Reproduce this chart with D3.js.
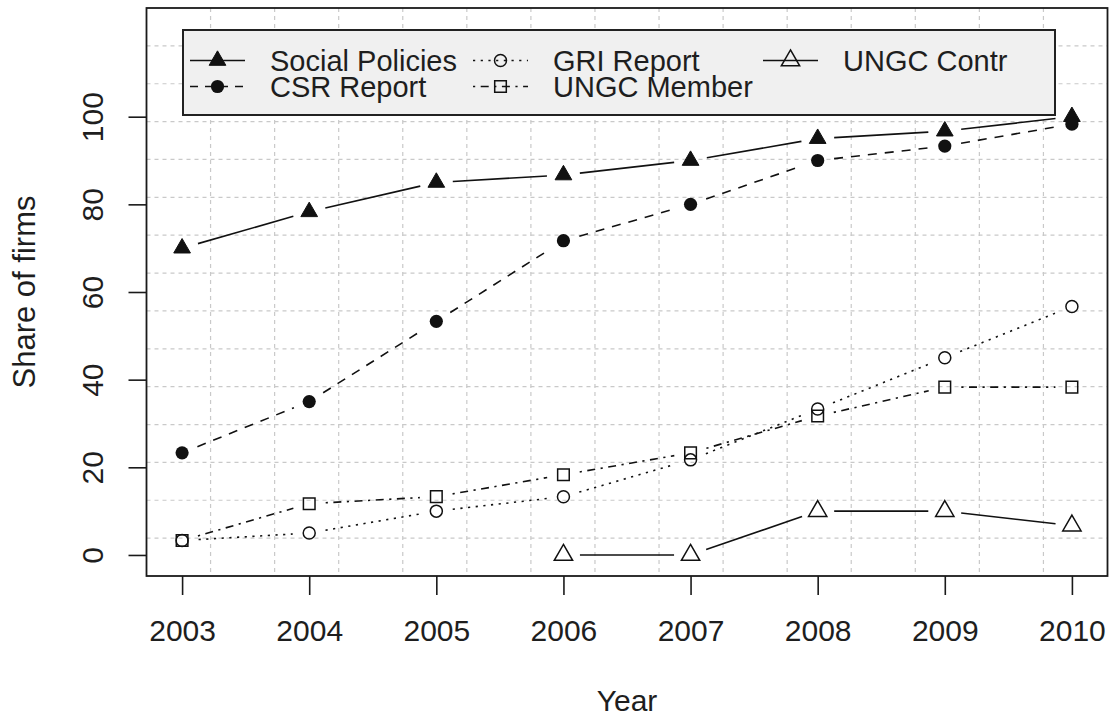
<!DOCTYPE html>
<html>
<head>
<meta charset="utf-8">
<script src="https://cdn.jsdelivr.net/npm/d3@7"></script>
<style>
  html, body { margin: 0; padding: 0; background: #ffffff; }
  svg { display: block; }
  text { font-family: "Liberation Sans", Arial, sans-serif; fill: #1e1e1e; }
</style>
</head>
<body>
<svg id="chart" width="1111" height="717"></svg>
<script>
// Share of firms adopting CSR practices, 2003-2010
const years = [2003, 2004, 2005, 2006, 2007, 2008, 2009, 2010];
const socialPolicies = [70, 78.3, 85, 86.7, 90, 95, 96.7, 100];
const csrReport      = [23.3, 35, 53.3, 71.7, 80, 90, 93.3, 98.3];
const griReport      = [3.3, 5, 10, 13.3, 21.7, 33.3, 45, 56.7];
const ungcMember     = [3.3, 11.7, 13.3, 18.3, 23.3, 31.7, 38.3, 38.3];
const ungcContr      = [null, null, null, 0, 0, 10, 10, 6.7];
const yTicks = [0, 20, 40, 60, 80, 100];
const seriesNames = ["Social Policies", "CSR Report", "GRI Report", "UNGC Member", "UNGC Contr"];
const xTitle = "Year";
const yTitle = "Share of firms";

// plotting styles (R-like line types and point characters)
const styles = {
  "Social Policies": { dash: null,            marker: "triangleFilled" },
  "CSR Report":      { dash: "9,8",           marker: "circleFilled" },
  "GRI Report":      { dash: "2.2,5.5",       marker: "circleOpen" },
  "UNGC Member":     { dash: "2.2,5.5,8,5.5", marker: "squareOpen" },
  "UNGC Contr":      { dash: null,            marker: "triangleOpen" }
};
const seriesValues = [socialPolicies, csrReport, griReport, ungcMember, ungcContr];

const svg = d3.select("#chart");
const plotLeft = 146.5, plotRight = 1107.5, plotTop = 8, plotBottom = 576;

// R-style axis extension of 4% on each side
const x = d3.scaleLinear().domain([2002.72, 2010.28]).range([plotLeft, plotRight]);
const y = d3.scaleLinear().domain([-4.8, 124.8]).range([plotBottom, plotTop]);

// background grid: 15 equal divisions each way
const gridG = svg.append("g");
const [x0, x1] = x.domain(), [y0, y1] = y.domain();
const gx = d3.range(1, 15).map(k => x0 + k * (x1 - x0) / 15);
const gy = d3.range(1, 15).map(k => y0 + k * (y1 - y0) / 15);
gridG.selectAll("line.gx").data(gx).join("line").attr("class", "gx")
  .attr("x1", d => x(d)).attr("x2", d => x(d))
  .attr("y1", plotTop).attr("y2", plotBottom)
  .attr("stroke", "#c9c9c9").attr("stroke-width", 1.2).attr("stroke-dasharray", "4,4");
gridG.selectAll("line.gy").data(gy).join("line").attr("class", "gy")
  .attr("y1", d => y(d)).attr("y2", d => y(d))
  .attr("x1", plotLeft).attr("x2", plotRight)
  .attr("stroke", "#c9c9c9").attr("stroke-width", 1.2).attr("stroke-dasharray", "4,4");

// marker shapes
function markerPath(type) {
  if (type.startsWith("triangle")) {
    const R = type === "triangleFilled" ? 6.2 : 6.8;
    const t = 1.555 * R, w = 1.347 * R, b = 0.778 * R;
    return `M0,${-t}L${w},${b}L${-w},${b}Z`;
  }
  if (type === "squareOpen") {
    const h = 5.8;
    return `M${-h},${-h}H${h}V${h}H${-h}Z`;
  }
  return null;
}
function drawMarker(g, type, cx, cy) {
  if (type === "circleFilled") {
    g.append("circle").attr("cx", cx).attr("cy", cy).attr("r", 6.6).attr("fill", "#111");
  } else if (type === "circleOpen") {
    g.append("circle").attr("cx", cx).attr("cy", cy).attr("r", 6)
      .attr("fill", "none").attr("stroke", "#111").attr("stroke-width", 1.5);
  } else {
    const filled = type === "triangleFilled";
    g.append("path").attr("d", markerPath(type))
      .attr("transform", `translate(${cx},${cy})`)
      .attr("fill", filled ? "#111" : "none")
      .attr("stroke", "#111").attr("stroke-width", filled ? 1 : 1.5);
  }
}

// series: lines with gaps around points (type = "b")
const gap = 16.5;
const dataG = svg.append("g");
seriesNames.forEach((name, si) => {
  const vals = seriesValues[si];
  const st = styles[name];
  const pts = years.map((yr, i) => vals[i] == null ? null : [x(yr), y(vals[i])]);
  for (let i = 0; i < pts.length - 1; i++) {
    const p = pts[i], q = pts[i + 1];
    if (!p || !q) continue;
    const dx = q[0] - p[0], dy = q[1] - p[1], len = Math.hypot(dx, dy);
    if (len <= 2 * gap) continue;
    const ux = dx / len, uy = dy / len;
    const ln = dataG.append("line")
      .attr("x1", p[0] + ux * gap).attr("y1", p[1] + uy * gap)
      .attr("x2", q[0] - ux * gap).attr("y2", q[1] - uy * gap)
      .attr("stroke", "#111").attr("stroke-width", 1.6);
    if (st.dash) ln.attr("stroke-dasharray", st.dash);
  }
  pts.forEach(p => { if (p) drawMarker(dataG, st.marker, p[0], p[1]); });
});

// plot frame
svg.append("rect").attr("x", plotLeft).attr("y", plotTop)
  .attr("width", plotRight - plotLeft).attr("height", plotBottom - plotTop)
  .attr("fill", "none").attr("stroke", "#1a1a1a").attr("stroke-width", 1.8);

// axes
const xAxis = svg.append("g").attr("transform", `translate(0,${plotBottom})`)
  .call(d3.axisBottom(x).tickValues(years).tickFormat(d3.format("d")).tickSize(19).tickSizeOuter(0));
xAxis.select(".domain").remove();
xAxis.selectAll(".tick line").attr("stroke", "#1a1a1a").attr("stroke-width", 1.6);
xAxis.selectAll(".tick text").attr("y", 65).attr("dy", 0)
  .attr("font-size", 30).attr("fill", "#1e1e1e")
  .style("font-family", "'Liberation Sans', Arial, sans-serif");

const yAxis = svg.append("g").attr("transform", `translate(${plotLeft},0)`)
  .call(d3.axisLeft(y).tickValues(yTicks).tickSize(18).tickSizeOuter(0));
yAxis.select(".domain").remove();
yAxis.selectAll(".tick line").attr("stroke", "#1a1a1a").attr("stroke-width", 1.6);
yAxis.selectAll(".tick text")
  .attr("transform", "rotate(-90)")
  .attr("x", 0).attr("y", -44).attr("dy", 0)
  .attr("text-anchor", "middle")
  .attr("font-size", 30).attr("fill", "#1e1e1e")
  .style("font-family", "'Liberation Sans', Arial, sans-serif");

// axis titles
svg.append("text").attr("x", (plotLeft + plotRight) / 2).attr("y", 711)
  .attr("text-anchor", "middle").attr("font-size", 30).text(xTitle);
svg.append("text")
  .attr("transform", `translate(35,${(plotTop + plotBottom) / 2}) rotate(-90)`)
  .attr("text-anchor", "middle").attr("font-size", 31).text(yTitle);

// legend
const lg = svg.append("g");
lg.append("rect").attr("x", 183).attr("y", 30).attr("width", 872).attr("height", 85)
  .attr("fill", "#f0f0f0").attr("stroke", "#222").attr("stroke-width", 2);
const colX = [190, 473, 763];
const rowY = [60.5, 86.5];
seriesNames.forEach((name, i) => {
  const col = Math.floor(i / 2), row = i % 2;
  const lx = colX[col], ly = rowY[row];
  const st = styles[name];
  const l = lg.append("line").attr("x1", lx).attr("x2", lx + 55)
    .attr("y1", ly).attr("y2", ly).attr("stroke", "#111").attr("stroke-width", 1.6);
  if (st.dash) l.attr("stroke-dasharray", st.dash === "9,8" ? "8,7" : st.dash);
  drawMarker(lg, st.marker, lx + 27.5, ly);
  lg.append("text").attr("x", lx + 80).attr("y", ly + 10.5)
    .attr("font-size", 29).text(name);
});
</script>
</body>
</html>
